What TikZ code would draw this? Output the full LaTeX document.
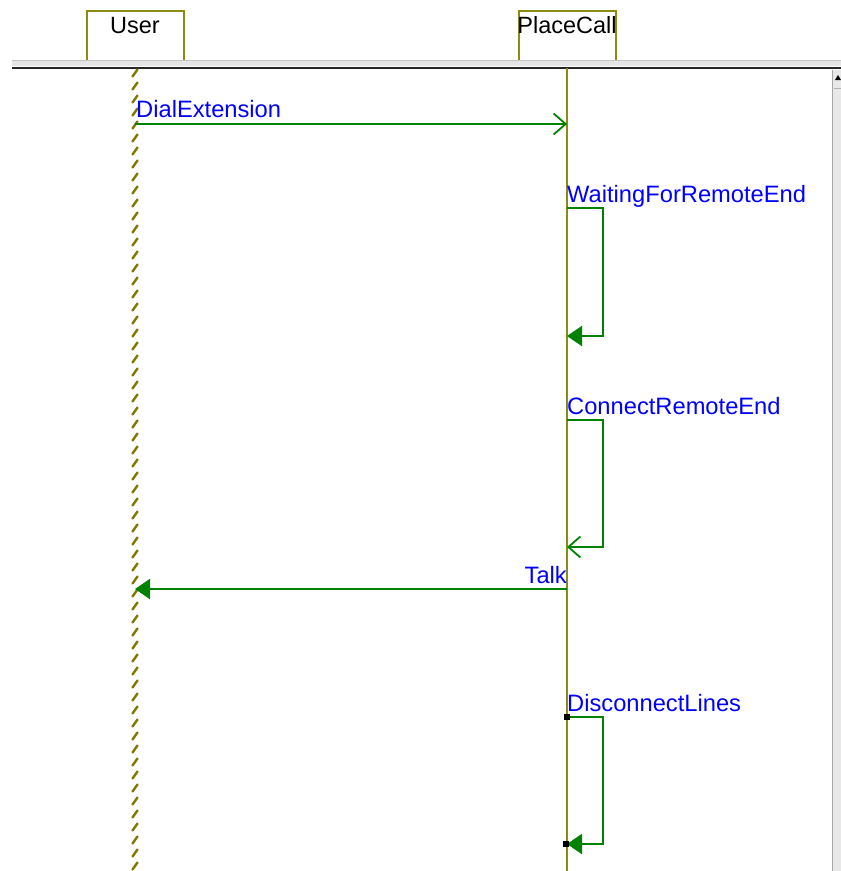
\documentclass[tikz,border=0pt]{standalone}
\usepackage{fontspec}
\setmainfont{Liberation Sans}
\usetikzlibrary{arrows.meta}
\definecolor{lifeol}{RGB}{140,140,20}
\definecolor{hatchol}{RGB}{130,120,0}
\definecolor{msggreen}{RGB}{0,130,0}
\definecolor{lblblue}{RGB}{0,0,255}
\tikzset{
  hdr/.style={draw=lifeol, line width=1.8pt, minimum width=97pt, minimum height=50pt, anchor=north west, inner sep=0pt, text depth=0pt},
  hdrtext/.style={font=\fontsize{23.5}{23.5}\selectfont, text=black},
  msg/.style={draw=msggreen, line width=2.2pt},
  openhead/.style={-{Straight Barb[length=12pt,width=21pt,line width=1.8pt]}},
  filledhead/.style={-{Triangle[length=15pt,width=20pt]}},
  lbl/.style={font=\fontsize{23.7}{23.7}\selectfont, text=lblblue, inner sep=0pt},
  marksq/.style={fill=black, minimum size=6pt, inner sep=0pt}
}
\begin{document}
\begin{tikzpicture}[x=1pt,y=-1pt]
\useasboundingbox (0,0) rectangle (841,871);
% header boxes
\node[hdr] (user) at (86,10) {};
\node[hdr] (pc) at (518,10) {};
\node[hdrtext, anchor=base] (usert) at (135,33) {User};
\node[hdrtext, anchor=base] (pct) at (567,33) {PlaceCall};
% separator
\fill[gray!20] (12,60) rectangle (841,66);
\draw[gray!45, line width=1pt] (12,60.5) -- (841,60.5);
\draw[black!85, line width=2pt] (12,67.5) -- (841,67.5);
% scrollbar
\fill[gray!18] (832,70) rectangle (841,871);
\draw[gray!70, line width=0.8pt] (832,70) -- (832,871);
\draw[gray!60, line width=1pt] (834,88) -- (841,88);
\fill[black] (835,80) -- (838,75) -- (841,80) -- cycle;
% lifelines
\coordinate (utop) at (135,68);
\coordinate (ubot) at (135,871);
\coordinate (ptop) at (567,68);
\coordinate (pbot) at (567,871);
\draw[lifeol, line width=1.8pt] (ptop) -- (pbot);
\foreach \yy in {73,86,...,871} {
  \draw[hatchol, line width=2.4pt, line cap=round] (132.5,\yy+3.5) -- (137.5,\yy-3.5);
}
% message endpoints
\coordinate (m1a) at (135,124);
\coordinate (m1b) at (567,124);
\coordinate (m2a) at (567,208);
\coordinate (m2b) at (567,336);
\coordinate (m3a) at (567,420);
\coordinate (m3b) at (567,547);
\coordinate (m4a) at (567,589);
\coordinate (m4b) at (135,589);
\coordinate (m5a) at (567,717);
\coordinate (m5b) at (567,844);
% messages
\draw[msg, openhead] (m1a) -- (m1b);
\draw[msg, filledhead] (m2a) -- ++(36,0) |- (m2b);
\draw[msg, openhead] (m3a) -- ++(36,0) |- (m3b);
\draw[msg, filledhead] (m4a) -- (m4b);
\draw[msg, filledhead] (m5a) -- ++(36,0) |- (m5b);
\node[marksq] (sq1) at (567,717) {};
\node[marksq] (sq2) at (566,844) {};
% labels
\node[lbl, anchor=base west] (l1) at (136,117) {DialExtension};
\node[lbl, anchor=base west] (l2) at (567,202) {WaitingForRemoteEnd};
\node[lbl, anchor=base west] (l3) at (567,414) {ConnectRemoteEnd};
\node[lbl, anchor=base east] (l4) at (567,583) {Talk};
\node[lbl, anchor=base west] (l5) at (567,711) {DisconnectLines};
\end{tikzpicture}
\end{document}
